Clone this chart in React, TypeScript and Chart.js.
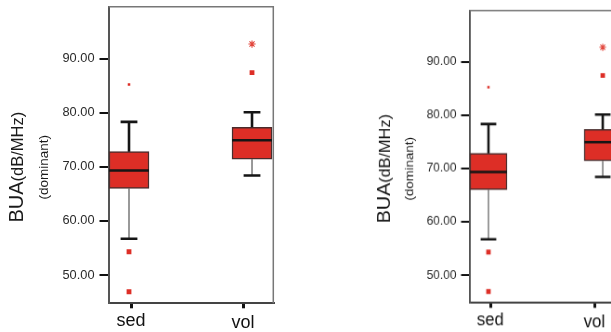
import { useEffect, useRef } from "react";
import { Chart, registerables } from "chart.js";
Chart.register(...registerables);

// ---- data ----
const categories = ["sed", "vol"];
const q1 = [66.0, 71.4];
const medians = [69.3, 74.9];
const q3 = [72.8, 77.3];
const whiskerLow = [56.7, 68.4];
const whiskerHigh = [78.3, 80.1];
const outliers = [[54.3, 46.9], [87.4]];
const minorOutliers = [[85.2], []];
const extremes = [[], [92.7]];
const yTicks = [50, 60, 70, 80, 90];
const yTitleMain = "BUA";
const yTitleUnit = "(dB/MHz)";
const yTitleSub = "(dominant)";

// ---- layout / style constants ----
const FONT = "'Liberation Sans', Arial, Helvetica, sans-serif";
const RED = "#dd2e26";
const BOX_W = 0.357;
const CAP_W = 0.15;
const BOX_SHIFT = [-0.018, 0.08];

const pos = (i: number) => i + BOX_SHIFT[i];

function buildConfig(): any {
  const boxes = categories.map((_, i) => ({ x: pos(i), y: [q1[i], q3[i]] }));
  const medianPts: any[] = [];
  const upper: any[] = [];
  const lowerStem: any[] = [];
  const lowerCap: any[] = [];
  categories.forEach((_, i) => {
    const c = pos(i);
    medianPts.push({ x: c - BOX_W / 2, y: medians[i] }, { x: c + BOX_W / 2, y: medians[i] }, { x: c, y: null });
    upper.push(
      { x: c, y: q3[i] }, { x: c, y: whiskerHigh[i] }, { x: c, y: null },
      { x: c - CAP_W / 2, y: whiskerHigh[i] }, { x: c + CAP_W / 2, y: whiskerHigh[i] }, { x: c, y: null }
    );
    lowerStem.push({ x: c, y: q1[i] }, { x: c, y: whiskerLow[i] }, { x: c, y: null });
    lowerCap.push({ x: c - CAP_W / 2, y: whiskerLow[i] }, { x: c + CAP_W / 2, y: whiskerLow[i] }, { x: c, y: null });
  });
  const pts = (arr: number[][]) => arr.flatMap((vals, i) => vals.map((v) => ({ x: pos(i), y: v })));

  const lineBase = { type: "line", pointRadius: 0, tension: 0, spanGaps: false, fill: false, borderCapStyle: "butt" };

  const titlePlugin = {
    id: "yTitle",
    afterDraw(chart: any) {
      const ctx = chart.ctx;
      ctx.save();
      ctx.fillStyle = "#1a1a1a";
      ctx.textBaseline = "alphabetic";
      ctx.textAlign = "left";
      ctx.translate(22.7, 167.2);
      ctx.rotate(-Math.PI / 2);
      ctx.font = `20px ${FONT}`;
      const w1 = ctx.measureText(yTitleMain).width;
      ctx.font = `16.5px ${FONT}`;
      const w2 = ctx.measureText(yTitleUnit).width;
      const start = -(w1 + w2) / 2;
      ctx.font = `20px ${FONT}`;
      ctx.fillText(yTitleMain, start, 0);
      ctx.font = `16.5px ${FONT}`;
      ctx.fillText(yTitleUnit, start + w1, 0);
      ctx.font = `13.5px ${FONT}`;
      ctx.textAlign = "center";
      ctx.fillText(yTitleSub, 0, 24.8);
      ctx.restore();
    },
  };

  const framePlugin = {
    id: "frame",
    afterDatasetsDraw(chart: any) {
      const { ctx, chartArea: a } = chart;
      ctx.save();
      ctx.strokeStyle = "#777";
      ctx.lineWidth = 1.5;
      ctx.beginPath();
      ctx.moveTo(a.left, a.top);
      ctx.lineTo(a.right, a.top);
      ctx.lineTo(a.right, a.bottom);
      ctx.stroke();
      ctx.restore();
    },
  };

  return {
    type: "scatter",
    data: {
      datasets: [
        { ...lineBase, data: medianPts, borderColor: "#151515", borderWidth: 2.5 },
        { ...lineBase, data: upper, borderColor: "#151515", borderWidth: 2.6 },
        { ...lineBase, data: lowerCap, borderColor: "#151515", borderWidth: 2.6 },
        {
          type: "scatter",
          data: pts(outliers),
          pointStyle: "rect",
          pointRadius: 3.4,
          backgroundColor: RED,
          borderWidth: 0,
        },
        {
          type: "scatter",
          data: pts(minorOutliers),
          pointStyle: "rect",
          pointRadius: 1.8,
          backgroundColor: RED,
          borderWidth: 0,
        },
        {
          type: "scatter",
          data: pts(extremes),
          pointStyle: "star",
          pointRadius: 3.6,
          borderColor: "#e2463c",
          borderWidth: 1.1,
        },
        {
          type: "bar",
          data: boxes,
          barThickness: 40,
          backgroundColor: RED,
          borderColor: "#4a2c2c",
          borderWidth: 1.5,
          borderSkipped: false,
        },
        { ...lineBase, data: lowerStem, borderColor: "#555", borderWidth: 1.2 },
      ],
    },
    options: {
      animation: false,
      responsive: false,
      events: [],
      layout: { padding: { left: 0, top: 6.7, right: 26.7, bottom: 0 } },
      plugins: { legend: { display: false }, tooltip: { enabled: false } },
      scales: {
        x: {
          type: "linear",
          min: -0.201,
          max: 1.27,
          offset: false,
          afterBuildTicks: (s: any) => {
            s.ticks = categories.map((_, i) => ({ value: i }));
          },
          afterFit: (s: any) => {
            s.height = 28.7;
            s.paddingLeft = 0;
            s.paddingRight = 0;
          },
          grid: {
            offset: false,
            display: true,
            drawOnChartArea: false,
            drawTicks: true,
            tickLength: 5,
            color: "#111",
            lineWidth: 3,
          },
          border: { display: true, color: "#444", width: 2 },
          ticks: {
            padding: 1.5,
            maxRotation: 0,
            autoSkip: false,
            color: "#111",
            font: (c: any) => ({ size: 18, family: FONT, lineHeight: c.index === 1 ? 1.5 : 1.2 }),
            callback: (v: any) => categories[Math.round(Number(v))] ?? "",
          },
        },
        y: {
          type: "linear",
          min: 44.77,
          max: 99.6,
          afterBuildTicks: (s: any) => {
            s.ticks = yTicks.map((v) => ({ value: v }));
          },
          afterFit: (s: any) => {
            s.width = 108.5;
            s.paddingTop = 0;
            s.paddingBottom = 0;
          },
          grid: {
            display: true,
            drawOnChartArea: false,
            drawTicks: true,
            tickLength: 9,
            color: "#111",
            lineWidth: 2,
          },
          border: { display: true, color: "#555", width: 2 },
          ticks: {
            padding: 5,
            color: "#2a2a2a",
            font: { size: 12.8, family: FONT },
            callback: (v: any) => Number(v).toFixed(2),
          },
        },
      },
    },
    plugins: [titlePlugin, framePlugin],
  };
}

function BoxChart({ transform }: { transform?: string }) {
  const ref = useRef<HTMLCanvasElement>(null);
  useEffect(() => {
    const chart = new Chart(ref.current as HTMLCanvasElement, buildConfig());
    return () => chart.destroy();
  }, []);
  return (
    <canvas
      ref={ref}
      width={300}
      height={332}
      style={{
        position: "absolute",
        left: 0,
        top: 0,
        width: 300,
        height: 332,
        transformOrigin: "0 0",
        transform: transform ?? "none",
      }}
    />
  );
}

export default function App() {
  return (
    <div
      style={{
        position: "fixed",
        left: 0,
        top: 0,
        width: 611,
        height: 332,
        overflow: "hidden",
        background: "#fff",
      }}
    >
      <BoxChart />
      <BoxChart transform="translate(368.6px, 3.85px) scale(0.929, 0.986)" />
    </div>
  );
}
